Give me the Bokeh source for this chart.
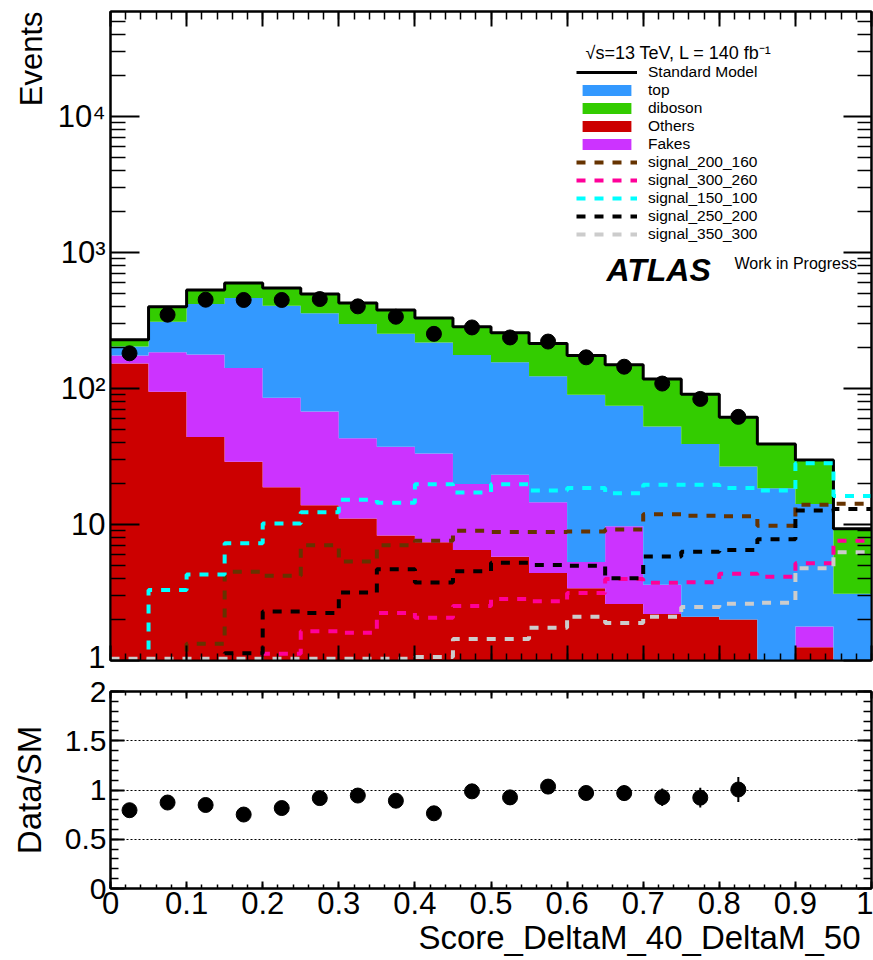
import numpy as np
from bokeh.plotting import figure
from bokeh.layouts import column
from bokeh.models import (Range1d, FixedTicker, CustomJSTickFormatter, LinearAxis, LogAxis,
                          Label, Legend, LegendItem, Title)
from bokeh.embed import file_html
from bokeh.resources import INLINE

# ---------------- data ----------------
BIN_EDGES = [0.00, 0.05, 0.10, 0.15, 0.20, 0.25, 0.30, 0.35, 0.40, 0.45, 0.50,
             0.55, 0.60, 0.65, 0.70, 0.75, 0.80, 0.85, 0.90, 0.95, 1.00]

OTHERS = [153, 95, 44, 29, 18.8, 13.9, 11.1, 8.3, 7.4, 6.5, 5.8, 4.4, 3.4, 2.6, 2.2, 2.1, 2.0, 0.6, 1.25, 0.4]
FAKES = [22, 90, 134, 113, 67, 54, 32, 29, 26, 13.4, 17.5, 10.2, 1.9, 7.1, 1.4, 0.0, 0.0, 0.2, 0.53, 0.1]
TOP = [29, 126, 242, 322, 321, 290, 256, 216, 185, 157, 133, 109, 85, 65, 49, 37, 24.7, 17.7, 12.4, 2.6]
DIBOSON = [25, 90, 112, 134, 143, 139, 128, 126, 113, 109, 101, 91, 85, 75, 65, 52, 35, 20.7, 15.7, 6.2]

DATA = [182, 350, 451, 449, 449, 456, 403, 338, 253, 282, 238, 222, 170, 145, 109, 84, 62]

SIG_200_160 = [0.5, 0.5, 1.33, 4.5, 4.2, 7.05, 5.35, 7.05, 7.6, 9.0, 8.8, 8.8, 8.9, 9.2, 11.9, 11.6, 11.5, 9.8, 14.0, 14.2]
SIG_300_260 = [0.5, 0.5, 0.5, 0.5, 1.12, 1.64, 1.6, 2.24, 2.06, 2.52, 2.84, 2.73, 3.14, 3.98, 3.74, 3.76, 4.34, 4.14, 5.2, 7.6]
SIG_150_100 = [0.5, 3.3, 4.3, 7.3, 10.2, 12.3, 15.2, 14.5, 19.8, 17.2, 19.8, 17.8, 18.6, 17.0, 19.6, 19.6, 18.6, 17.8, 28.2, 16.2]
SIG_250_200 = [0.5, 0.5, 0.5, 1.13, 2.29, 2.24, 3.16, 4.69, 3.75, 4.54, 5.23, 5.05, 4.97, 4.03, 5.82, 6.3, 6.5, 7.8, 12.7, 13.0]
SIG_350_300 = [1.03, 1.03, 1.03, 1.03, 1.03, 1.03, 1.03, 1.03, 1.06, 1.44, 1.44, 1.74, 2.1, 1.89, 2.1, 2.48, 2.62, 2.66, 4.77, 6.25]

X_TICKS = [0.0, 0.1, 0.2, 0.3, 0.4, 0.5, 0.6, 0.7, 0.8, 0.9, 1.0]
Y_TICKS_MAIN = [1, 10, 100, 1000, 10000]
Y_TICKS_RATIO = [0, 0.5, 1, 1.5, 2]
RATIO_GRID = [0.5, 1, 1.5]

# ---------------- style ----------------
C_TOP = "#3399FF"
C_DIB = "#33CC00"
C_OTH = "#CC0000"
C_FAK = "#CC33FF"
C_S200 = "#663300"
C_S300 = "#FF0099"
C_S150 = "#00FFFF"
C_S250 = "#000000"
C_S350 = "#CCCCCC"
FONT = "Liberation Sans"

W = 873
H1, H2 = 674, 286
BL, BR = 110, 2
Y1_MIN, Y1_MAX = 1.0, 5.95e4

# canvas-pixel geometry used only to place text annotations
F_LEFT, F_RIGHT = 110.0, 871.0
F1_TOP, F1_BOT = 11.0, 660.0


def x_at(px):
    return (px - F_LEFT) / (F_RIGHT - F_LEFT)


def y1_at(py):
    l0, l1 = np.log10(Y1_MIN), np.log10(Y1_MAX)
    return 10 ** (l0 + (F1_BOT - py) / (F1_BOT - F1_TOP) * (l1 - l0))


edges = np.array(BIN_EDGES)
nb = len(edges) - 1
centers = 0.5 * (edges[:-1] + edges[1:])


def stairs(vals):
    xs = np.repeat(edges, 2)[1:-1]
    ys = np.repeat(np.asarray(vals, dtype=float), 2)
    return xs, ys


def style_axis(ax, major_in, minor_in, size, standoff, labels=True):
    ax.major_tick_in = major_in
    ax.major_tick_out = 0
    ax.minor_tick_in = minor_in
    ax.minor_tick_out = 0
    ax.axis_line_width = 2
    ax.axis_line_color = "black"
    ax.major_tick_line_width = 2
    ax.minor_tick_line_width = 1.5
    ax.major_tick_line_color = "black"
    ax.minor_tick_line_color = "black"
    ax.major_label_text_font = FONT
    ax.major_label_text_color = "black"
    ax.major_label_standoff = standoff
    if labels:
        ax.major_label_text_font_size = size
    else:
        ax.formatter = CustomJSTickFormatter(code="return ''")
        ax.major_label_text_font_size = "0px"
        ax.major_label_standoff = 0


x_minor = [round(0.02 * i, 2) for i in range(51)]
y_minor_main = [k * 10 ** d for d in range(0, 5) for k in range(2, 10)]
y_minor_ratio = [round(0.1 * i, 1) for i in range(21)]

x_fmt = CustomJSTickFormatter(code="return Number(tick.toFixed(1)).toString();")
log_fmt = CustomJSTickFormatter(code="""
const e = Math.round(Math.log10(tick));
const sup = ["", "", "\u00b2", "\u00b3", "\u2074", "\u2075"];
if (e === 0) return "1";
if (e === 1) return "10";
return "10" + sup[e];
""")
r_fmt = CustomJSTickFormatter(code="return Number(tick.toFixed(1)).toString();")

# ---------------- main panel ----------------
p = figure(width=W, height=H1, x_range=Range1d(0, 1), y_range=Range1d(Y1_MIN, Y1_MAX),
           y_axis_type="log", output_backend="svg", toolbar_location=None,
           min_border_left=BL, min_border_right=BR, min_border_top=11, min_border_bottom=14,
           background_fill_color="white", border_fill_color="white")
p.outline_line_color = "black"
p.outline_line_width = 2
p.xgrid.visible = False
p.ygrid.visible = False

p.xaxis.ticker = FixedTicker(ticks=X_TICKS, minor_ticks=x_minor)
style_axis(p.xaxis[0], 15, 7, "31px", 0, labels=False)
p.yaxis.ticker = FixedTicker(ticks=Y_TICKS_MAIN, minor_ticks=y_minor_main)
p.yaxis.formatter = log_fmt
style_axis(p.yaxis[0], 29, 15, "31px", 5)

ax_top = LinearAxis(ticker=FixedTicker(ticks=X_TICKS, minor_ticks=x_minor))
style_axis(ax_top, 15, 8, "31px", 0, labels=False)
p.add_layout(ax_top, "above")
ax_right = LogAxis(ticker=FixedTicker(ticks=Y_TICKS_MAIN, minor_ticks=y_minor_main))
style_axis(ax_right, 28, 14, "31px", 0, labels=False)
p.add_layout(ax_right, "right")

p.add_layout(Title(text="Events", align="right", text_font=FONT, text_font_size="31px",
                   text_font_style="normal", text_color="black", standoff=12), "left")

# stacked backgrounds (bottom to top)
FLOOR = 1e-3
base = np.full(nb, FLOOR)
stack_r = {}
for name, vals, col in [("Others", OTHERS, C_OTH), ("Fakes", FAKES, C_FAK),
                        ("top", TOP, C_TOP), ("diboson", DIBOSON, C_DIB)]:
    upper = base + np.array(vals, dtype=float)
    xs, yu = stairs(upper)
    _, yl = stairs(base)
    r = p.patch(np.concatenate([xs, xs[::-1]]), np.concatenate([yu, yl[::-1]]),
                fill_color=col, line_color=None)
    stack_r[name] = r
    base = upper
sm_total = base

xs, ys = stairs(sm_total)
sm_r = p.line(xs, ys, line_color="black", line_width=3)

sig_r = {}
for name, vals, col in [("signal_200_160", SIG_200_160, C_S200), ("signal_300_260", SIG_300_260, C_S300),
                        ("signal_150_100", SIG_150_100, C_S150), ("signal_250_200", SIG_250_200, C_S250),
                        ("signal_350_300", SIG_350_300, C_S350)]:
    xs, ys = stairs(vals)
    sig_r[name] = p.line(xs, ys, line_color=col, line_width=4, line_dash="9 9", line_cap="butt")

nd = len(DATA)
p.scatter(centers[:nd], DATA, size=15, color="black")

legend = Legend(items=[
    LegendItem(label="Standard Model", renderers=[sm_r]),
    LegendItem(label="top", renderers=[stack_r["top"]]),
    LegendItem(label="diboson", renderers=[stack_r["diboson"]]),
    LegendItem(label="Others", renderers=[stack_r["Others"]]),
    LegendItem(label="Fakes", renderers=[stack_r["Fakes"]]),
    LegendItem(label="signal_200_160", renderers=[sig_r["signal_200_160"]]),
    LegendItem(label="signal_300_260", renderers=[sig_r["signal_300_260"]]),
    LegendItem(label="signal_150_100", renderers=[sig_r["signal_150_100"]]),
    LegendItem(label="signal_250_200", renderers=[sig_r["signal_250_200"]]),
    LegendItem(label="signal_350_300", renderers=[sig_r["signal_350_300"]]),
], location=(466, 417), orientation="vertical", glyph_width=61, glyph_height=14,
    label_standoff=11, spacing=0, padding=0, margin=0, label_height=14,
    label_text_font=FONT, label_text_font_size="15.5px", label_text_color="black",
    background_fill_alpha=0, border_line_alpha=0)
p.add_layout(legend)

p.add_layout(Label(x=x_at(585), y=y1_at(52.7), text="\u221as=13 TeV, L = 140 fb\u207b\u00b9",
                   text_font=FONT, text_font_size="18px", text_color="black",
                   text_baseline="alphabetic", text_align="left"))
p.add_layout(Label(x=x_at(606), y=y1_at(269.3), text="ATLAS", text_font=FONT,
                   text_font_size="32px", text_font_style="bold italic", text_color="black",
                   text_baseline="alphabetic", text_align="left"))
p.add_layout(Label(x=x_at(734), y=y1_at(263.3), text="Work in Progress", text_font=FONT,
                   text_font_size="16px", text_color="black",
                   text_baseline="alphabetic", text_align="left"))

# ---------------- ratio panel ----------------
p2 = figure(width=W, height=H2, x_range=Range1d(0, 1), y_range=Range1d(0, 2),
            output_backend="svg", toolbar_location=None,
            min_border_left=BL, min_border_right=BR, min_border_top=17, min_border_bottom=72,
            background_fill_color="white", border_fill_color="white")
p2.outline_line_color = "black"
p2.outline_line_width = 2
p2.xgrid.visible = False
p2.ygrid.ticker = FixedTicker(ticks=RATIO_GRID)
p2.ygrid.grid_line_color = "black"
p2.ygrid.grid_line_dash = "2 2"
p2.ygrid.grid_line_width = 1

p2.xaxis.ticker = FixedTicker(ticks=X_TICKS, minor_ticks=x_minor)
p2.xaxis.formatter = x_fmt
style_axis(p2.xaxis[0], 7, 4, "31px", 3)
p2.yaxis.ticker = FixedTicker(ticks=Y_TICKS_RATIO, minor_ticks=y_minor_ratio)
p2.yaxis.formatter = r_fmt
style_axis(p2.yaxis[0], 14, 8, "30px", 4)
p2.yaxis.axis_label = "Data/SM"
p2.yaxis.axis_label_text_font = FONT
p2.yaxis.axis_label_text_font_size = "33px"
p2.yaxis.axis_label_text_font_style = "normal"
p2.yaxis.axis_label_text_color = "black"
p2.yaxis.axis_label_standoff = 14

ax2_top = LinearAxis(ticker=FixedTicker(ticks=X_TICKS, minor_ticks=x_minor))
style_axis(ax2_top, 7, 4, "31px", 0, labels=False)
p2.add_layout(ax2_top, "above")
ax2_right = LinearAxis(ticker=FixedTicker(ticks=Y_TICKS_RATIO, minor_ticks=y_minor_ratio))
style_axis(ax2_right, 14, 8, "31px", 0, labels=False)
p2.add_layout(ax2_right, "right")

p2.add_layout(Title(text="Score_DeltaM_40_DeltaM_50", align="right", offset=11, standoff=0,
                    text_font=FONT, text_font_size="33px", text_font_style="normal",
                    text_color="black"), "below")

data_arr = np.array(DATA, dtype=float)
sm_arr = sm_total[:nd]
ratio = data_arr / sm_arr
ratio_err = np.sqrt(data_arr) / sm_arr
p2.segment(centers[:nd], ratio - ratio_err, centers[:nd], ratio + ratio_err,
           line_color="black", line_width=2)
p2.scatter(centers[:nd], ratio, size=15, color="black")

layout = column(p, p2, spacing=0)
open("out.html", "w").write(file_html(layout, INLINE))
